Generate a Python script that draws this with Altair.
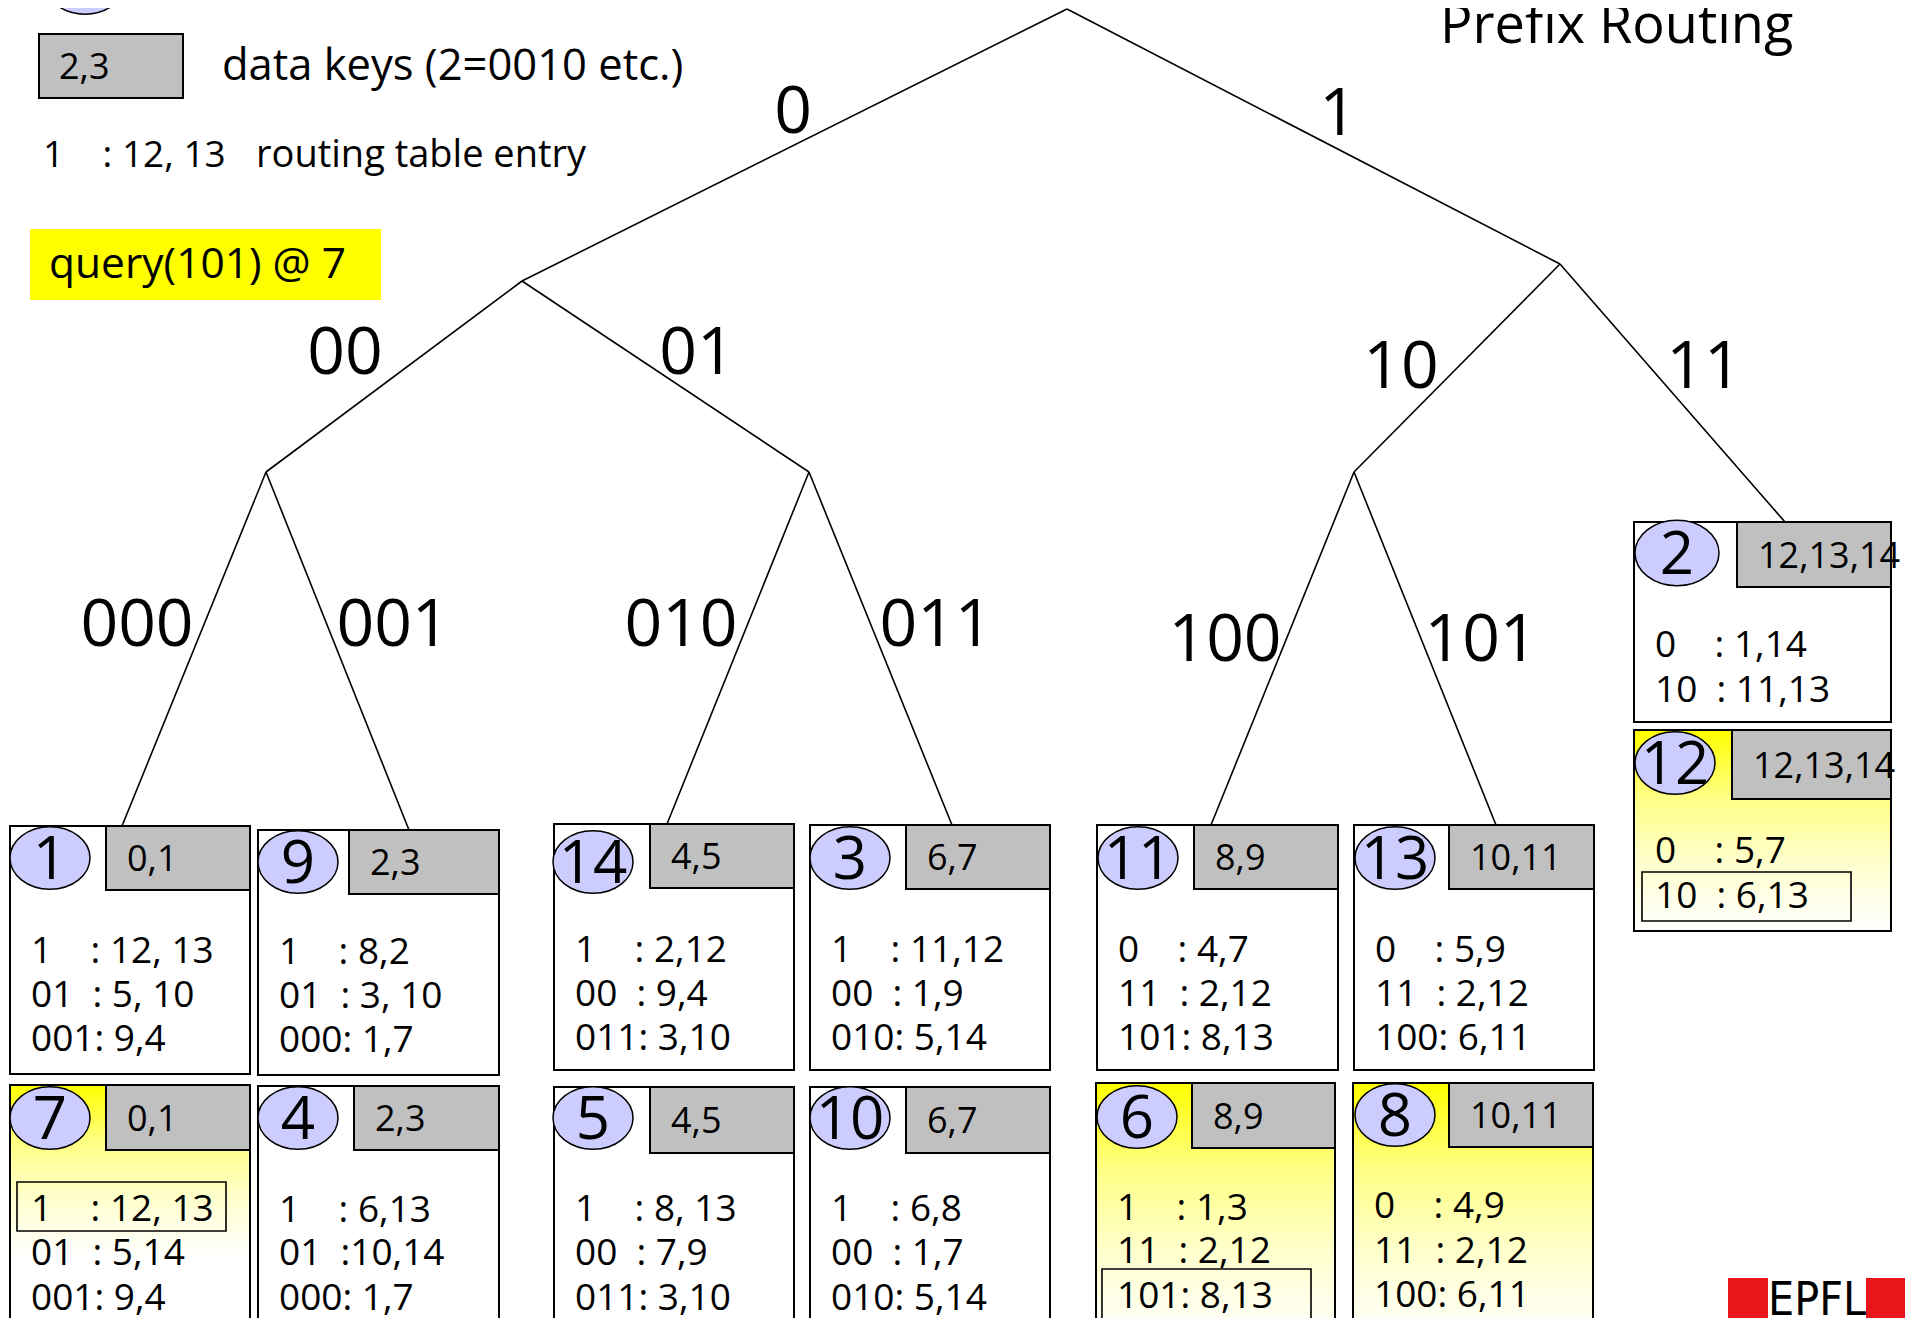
import altair as alt
import pandas as pd

FONT = "Open Sans"
NB = "\u00a0"

# ---------------- tree (reference pixel coordinates) ----------------
node_names = ["root", "0", "1", "00", "01", "10", "11", "000", "001", "010", "011", "100", "101"]
node_x = [1067, 522, 1560, 266, 809, 1354, 1785, 122, 409, 667, 952, 1211, 1496]
node_y = [9, 281, 264, 472, 472, 472, 522, 826, 830, 824, 825, 825, 825]
edge_from = ["root", "root", "0", "0", "1", "1", "00", "00", "01", "01", "10", "10"]
edge_to = ["0", "1", "00", "01", "10", "11", "000", "001", "010", "011", "100", "101"]

branch_labels = ["0", "1", "00", "01", "10", "11", "000", "001", "010", "011", "100", "101"]
branch_lx = [793, 1338, 345, 697, 1401, 1704, 137, 393, 681, 936, 1225, 1481]
branch_ly = [113, 115, 354, 354, 368, 368, 626, 626, 626, 626, 641, 641]

# ---------------- peer boxes ----------------
box_ids = ["1", "9", "14", "3", "11", "13", "7", "4", "5", "10", "6", "8", "2", "12"]
box_x0 = [10, 258, 554, 810, 1097, 1354, 10, 258, 554, 810, 1096, 1353, 1634, 1634]
box_x1 = [250, 499, 794, 1050, 1338, 1594, 250, 499, 794, 1050, 1335, 1593, 1891, 1891]
box_y0 = [826, 830, 824, 825, 825, 825, 1085, 1086, 1087, 1087, 1083, 1083, 522, 730]
box_y1 = [1074, 1075, 1070, 1070, 1070, 1070, 1340, 1340, 1340, 1340, 1340, 1340, 722, 931]
key_x0 = [106, 349, 650, 906, 1194, 1449, 106, 354, 650, 906, 1192, 1449, 1737, 1732]
key_y1 = [890, 894, 888, 889, 889, 889, 1150, 1150, 1153, 1153, 1148, 1147, 587, 799]
data_keys = ["0,1", "2,3", "4,5", "6,7", "8,9", "10,11",
             "0,1", "2,3", "4,5", "6,7", "8,9", "10,11", "12,13,14", "12,13,14"]
ell_x = [50, 298, 593, 850, 1138, 1395, 50, 298, 593, 850, 1137, 1395, 1677, 1675]
ell_y = [858, 862, 862, 858, 858, 858, 1118, 1118, 1118, 1118, 1117, 1115, 553, 763]
ell_rx = [40, 40, 40, 40, 40, 40, 40, 40, 40, 40, 40, 40, 42, 40]

routing = [
    ["1    : 12, 13", "01  : 5, 10", "001: 9,4"],
    ["1    : 8,2", "01  : 3, 10", "000: 1,7"],
    ["1    : 2,12", "00  : 9,4", "011: 3,10"],
    ["1    : 11,12", "00  : 1,9", "010: 5,14"],
    ["0    : 4,7", "11  : 2,12", "101: 8,13"],
    ["0    : 5,9", "11  : 2,12", "100: 6,11"],
    ["1    : 12, 13", "01  : 5,14", "001: 9,4"],
    ["1    : 6,13", "01  :10,14", "000: 1,7"],
    ["1    : 8, 13", "00  : 7,9", "011: 3,10"],
    ["1    : 6,8", "00  : 1,7", "010: 5,14"],
    ["1    : 1,3", "11  : 2,12", "101: 8,13"],
    ["0    : 4,9", "11  : 2,12", "100: 6,11"],
    ["0    : 1,14", "10  : 11,13"],
    ["0    : 5,7", "10  : 6,13"],
]
routing_baselines = [
    [963, 1007, 1051], [964, 1008, 1052], [962, 1006, 1050], [962, 1006, 1050],
    [962, 1006, 1050], [962, 1006, 1050],
    [1221, 1265, 1310], [1222, 1265, 1310], [1221, 1265, 1310], [1221, 1265, 1310],
    [1220, 1263, 1308], [1218, 1263, 1307],
    [657, 702], [863, 908],
]

# highlighted (used) routing entries along the query path
hl_x0 = [17, 1102, 1642]
hl_x1 = [226, 1311, 1851]
hl_y0 = [1182, 1269, 872]
hl_y1 = [1231, 1319, 921]

# peers on the query path (yellow gradient background)
grad_x0 = [10, 1096, 1353, 1634]
grad_x1 = [250, 1335, 1593, 1891]
grad_y0 = [1085, 1083, 1083, 730]
grad_y1 = [1257, 1340, 1340, 931]

# ---------------- scales / helpers ----------------
xs = alt.Scale(domain=[8, 1905], nice=False, zero=False)
ys = alt.Scale(domain=[8, 1318], nice=False, zero=False, reverse=True)


def X(f):
    return alt.X(f"{f}:Q", scale=xs, axis=None)


def Y(f):
    return alt.Y(f"{f}:Q", scale=ys, axis=None)


def X2(f):
    return alt.X2(f"{f}:Q")


def Y2(f):
    return alt.Y2(f"{f}:Q")


# ---------------- data frames ----------------
pos = dict(zip(node_names, zip(node_x, node_y)))
edf = pd.DataFrame({
    "x": [pos[a][0] for a in edge_from], "y": [pos[a][1] for a in edge_from],
    "x2": [pos[b][0] for b in edge_to], "y2": [pos[b][1] for b in edge_to],
})
ldf = pd.DataFrame({"t": branch_labels, "x": branch_lx, "y": branch_ly})

bdf = pd.DataFrame({
    "id": box_ids, "x0": box_x0, "x1": box_x1, "y0": box_y0, "y1": box_y1,
    "kx0": key_x0, "ky1": key_y1, "key": data_keys,
    "ex": ell_x, "ey": ell_y, "sz": [(2 * r) ** 2 for r in ell_rx],
})
bdf["ty"] = bdf["ey"] + 3
bdf["kx"] = bdf["kx0"] + 21
bdf["ky"] = (bdf["y0"] + bdf["ky1"]) / 2 + 13

rows = []
for i, lines in enumerate(routing):
    for s, b in zip(lines, routing_baselines[i]):
        rows.append({"t": s.replace(" ", NB), "x": box_x0[i] + 21, "y": b})
rdf = pd.DataFrame(rows)

hdf = pd.DataFrame({"x0": hl_x0, "x1": hl_x1, "y0": hl_y0, "y1": hl_y1})
gdf = pd.DataFrame({"x0": grad_x0, "x1": grad_x1, "y0": grad_y0, "y1": grad_y1})

ELL = ("M -1 0 C -1 -0.4308 -0.5523 -0.78 0 -0.78 C 0.5523 -0.78 1 -0.4308 1 0 "
       "C 1 0.4308 0.5523 0.78 0 0.78 C -0.5523 0.78 -1 0.4308 -1 0 Z")

# ---------------- layers ----------------
edges = alt.Chart(edf).mark_rule(color="black", strokeWidth=1.6).encode(
    x=X("x"), y=Y("y"), x2=X2("x2"), y2=Y2("y2"))

blabels = alt.Chart(ldf).mark_text(font=FONT, fontSize=66, align="center",
                                    baseline="middle", color="black").encode(
    x=X("x"), y=Y("y"), text="t:N")

boxes = alt.Chart(bdf).mark_rect(fill="white", stroke="black", strokeWidth=2).encode(
    x=X("x0"), x2=X2("x1"), y=Y("y0"), y2=Y2("y1"))

grad = alt.Chart(gdf).mark_rect(
    fill=alt.LinearGradient(
        gradient="linear", x1=0, x2=0, y1=0, y2=1,
        stops=[alt.GradientStop(color="#ffff00", offset=0),
               alt.GradientStop(color="#ffff80", offset=0.32),
               alt.GradientStop(color="#ffffcc", offset=0.65),
               alt.GradientStop(color="#ffffff", offset=1)]),
    strokeWidth=0).encode(x=X("x0"), x2=X2("x1"), y=Y("y0"), y2=Y2("y1"))

outlines = alt.Chart(bdf).mark_rect(fillOpacity=0, stroke="black", strokeWidth=2).encode(
    x=X("x0"), x2=X2("x1"), y=Y("y0"), y2=Y2("y1"))

keyrects = alt.Chart(bdf).mark_rect(fill="#c0c0c0", stroke="black", strokeWidth=2).encode(
    x=X("kx0"), x2=X2("x1"), y=Y("y0"), y2=Y2("ky1"))

keytext = alt.Chart(bdf).mark_text(font=FONT, fontSize=36, align="left",
                                    baseline="alphabetic", color="black").encode(
    x=X("kx"), y=Y("ky"), text="key:N")

highlights = alt.Chart(hdf).mark_rect(fillOpacity=0, stroke="black", strokeWidth=1.6).encode(
    x=X("x0"), x2=X2("x1"), y=Y("y0"), y2=Y2("y1"))

ellipses = alt.Chart(bdf).mark_point(shape=ELL, filled=True, fill="#ccccff", fillOpacity=1,
                                      stroke="black", strokeWidth=1.5, opacity=1).encode(
    x=X("ex"), y=Y("ey"), size=alt.Size("sz:Q", scale=None, legend=None))

ids = alt.Chart(bdf).mark_text(font=FONT, fontSize=60, align="center",
                                baseline="middle", color="black").encode(
    x=X("ex"), y=Y("ty"), text="id:N")

rtext = alt.Chart(rdf).mark_text(font=FONT, fontSize=37, align="left",
                                  baseline="alphabetic", color="black").encode(
    x=X("x"), y=Y("y"), text="t:N")

# ---------------- legend / title / query ----------------
leg_rect_df = pd.DataFrame({"x0": [39], "x1": [183], "y0": [34], "y1": [98]})
leg_rect = alt.Chart(leg_rect_df).mark_rect(fill="#c0c0c0", stroke="black", strokeWidth=2).encode(
    x=X("x0"), x2=X2("x1"), y=Y("y0"), y2=Y2("y1"))

leg_ell_df = pd.DataFrame({"x": [85], "y": [-17], "sz": [6400]})
leg_ell = alt.Chart(leg_ell_df).mark_point(shape=ELL, filled=True, fill="#ccccff", fillOpacity=1,
                                            stroke="black", strokeWidth=1.5, opacity=1).encode(
    x=X("x"), y=Y("y"), size=alt.Size("sz:Q", scale=None, legend=None))

legend_texts = ["2,3", "data keys (2=0010 etc.)", "1    : 12, 13".replace(" ", NB), "routing table entry"]
legend_tx = [59, 222, 43, 256]
legend_ty = [79, 80, 167, 167]
legend_fs = [36, 43.5, 37, 38]
lt_df = pd.DataFrame({"t": legend_texts, "x": legend_tx, "y": legend_ty, "fs": legend_fs})
leg_text = alt.Chart(lt_df).mark_text(font=FONT, align="left", baseline="alphabetic",
                                       color="black").encode(
    x=X("x"), y=Y("y"), text="t:N", size=alt.Size("fs:Q", scale=None, legend=None))

q_df = pd.DataFrame({"x0": [30], "x1": [381], "y0": [229], "y1": [300]})
q_rect = alt.Chart(q_df).mark_rect(fill="#ffff00", strokeWidth=0).encode(
    x=X("x0"), x2=X2("x1"), y=Y("y0"), y2=Y2("y1"))
q_text = alt.Chart(pd.DataFrame({"t": ["query(101) @ 7"], "x": [49], "y": [278]})).mark_text(
    font=FONT, fontSize=42.5, align="left", baseline="alphabetic", color="black").encode(
    x=X("x"), y=Y("y"), text="t:N")

title = alt.Chart(pd.DataFrame({"t": ["Prefix Routing"], "x": [1440], "y": [43]})).mark_text(
    font=FONT, fontSize=54, align="left", baseline="alphabetic", color="black").encode(
    x=X("x"), y=Y("y"), text="t:N")

# ---------------- logo ----------------
logo_red = alt.Chart(pd.DataFrame({"x0": [1728], "x1": [1913], "y0": [1278], "y1": [1340]})).mark_rect(
    fill="#e8151b", strokeWidth=0).encode(x=X("x0"), x2=X2("x1"), y=Y("y0"), y2=Y2("y1"))
logo_white = alt.Chart(pd.DataFrame({"x0": [1768], "x1": [1866], "y0": [1278], "y1": [1340]})).mark_rect(
    fill="white", strokeWidth=0).encode(x=X("x0"), x2=X2("x1"), y=Y("y0"), y2=Y2("y1"))
logo_text = alt.Chart(pd.DataFrame({"t": ["EPFL"], "x": [1817], "y": [1279]})).mark_text(
    font="'Liberation Sans Narrow', 'DejaVu Sans Condensed', 'Liberation Sans', sans-serif",
    fontSize=46, align="center", baseline="top", color="black").encode(
    x=X("x"), y=Y("y"), text="t:N")

chart = alt.layer(
    edges, blabels, boxes, grad, outlines, keyrects, keytext, highlights,
    ellipses, ids, rtext, leg_rect, leg_ell, leg_text, q_rect, q_text, title,
    logo_red, logo_white, logo_text,
).properties(
    width=1897, height=1310, padding=0,
    autosize=alt.AutoSizeParams(type="none"),
    background="white",
).configure_view(stroke=None)

chart.save("out.html", embed_options={"renderer": "svg", "actions": False})
